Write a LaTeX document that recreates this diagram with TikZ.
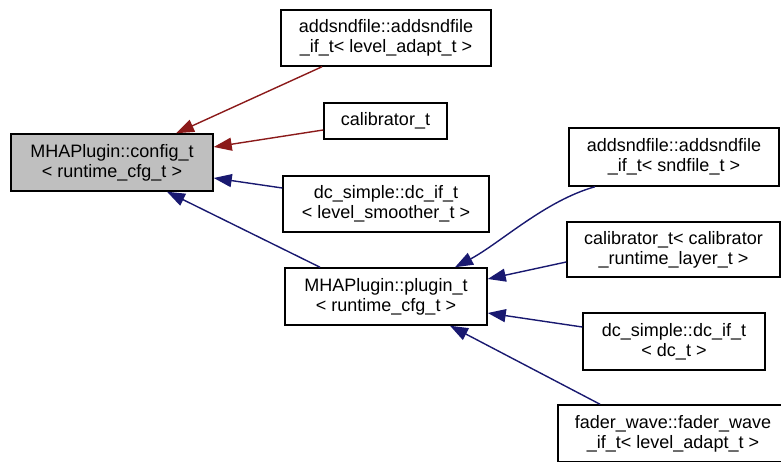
\documentclass[tikz,border=0pt]{standalone}
\usepackage{fontspec}
\setmainfont{Liberation Sans}
\usetikzlibrary{arrows.meta}
\definecolor{edgered}{HTML}{8B1A1A}
\definecolor{edgeblue}{HTML}{191970}
\definecolor{rootfill}{HTML}{BFBFBF}
\begin{document}
\begin{tikzpicture}[x=1pt,y=1pt,
  box/.style={draw=black, line width=1.5pt, fill=white, inner sep=0pt, align=center,
    font=\fontsize{18}{20}\selectfont},
  rootbox/.style={box, fill=rootfill},
  conn/.style={line width=1.4pt, -{Triangle[length=18pt,width=13pt]}},
  redconn/.style={conn, draw=edgered},
  blueconn/.style={conn, draw=edgeblue}]
\useasboundingbox (0,0) rectangle (781,462);
\clip (0,0) rectangle (781,462);
% nodes
\node[rootbox, minimum width=202pt, minimum height=57pt] (root) at (112,299.5)
  {MHAPlugin::config\_t\\< runtime\_cfg\_t >};
\node[box, minimum width=210pt, minimum height=56pt] (a1) at (386,424)
  {addsndfile::addsndfile\\\_if\_t< level\_adapt\_t >};
\node[box, minimum width=123pt, minimum height=36pt] (a2) at (385.5,341)
  {calibrator\_t};
\node[box, minimum width=206pt, minimum height=56pt] (a3) at (386,258)
  {dc\_simple::dc\_if\_t\\< level\_smoother\_t >};
\node[box, minimum width=202pt, minimum height=57pt] (p) at (386,165.5)
  {MHAPlugin::plugin\_t\\< runtime\_cfg\_t >};
\node[box, minimum width=210pt, minimum height=58pt] (b1) at (674,305)
  {addsndfile::addsndfile\\\_if\_t< sndfile\_t >};
\node[box, minimum width=213pt, minimum height=55pt] (b2) at (673.5,212.5)
  {calibrator\_t< calibrator\\\_runtime\_layer\_t >};
\node[box, minimum width=182pt, minimum height=57pt] (b3) at (674,120.5)
  {dc\_simple::dc\_if\_t\\< dc\_t >};
\node[box, minimum width=230pt, minimum height=57pt] (b4) at (673,28.5)
  {fader\_wave::fader\_wave\\\_if\_t< level\_adapt\_t >};
% connectors
\draw[redconn] ([xshift=-64pt]a1.south) -- ([xshift=64pt]root.north);
\draw[redconn] ([yshift=-9pt]a2.west) -- ([yshift=15.5pt]root.east);
\draw[blueconn] ([yshift=16pt]a3.west) -- ([yshift=-15.5pt]root.east);
\draw[blueconn] ([xshift=-66pt]p.north) -- ([xshift=55pt]root.south);
\draw[blueconn] ([xshift=-79pt]b1.south) .. controls +(-50pt,-14pt) and +(45pt,24pt) .. ([xshift=69pt]p.north);
\draw[blueconn] ([yshift=-12.5pt]b2.west) -- ([yshift=17.5pt]p.east);
\draw[blueconn] ([yshift=14.5pt]b3.west) -- ([yshift=-16.5pt]p.east);
\draw[blueconn] ([xshift=-73pt]b4.north) -- ([xshift=64pt]p.south);
\end{tikzpicture}
\end{document}
